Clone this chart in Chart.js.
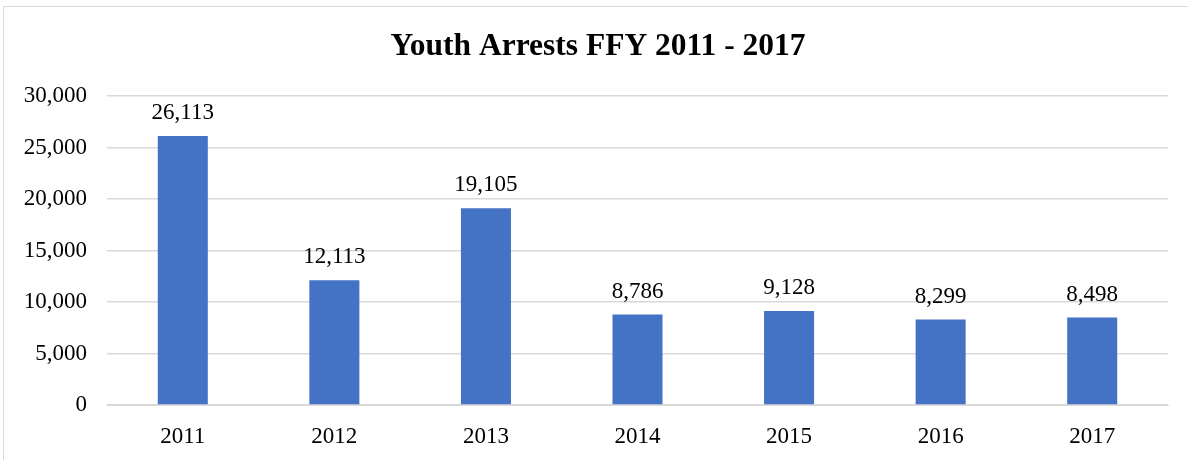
<!DOCTYPE html>
<html>
<head>
<meta charset="utf-8">
<script src="https://cdn.jsdelivr.net/npm/chart.js@4"></script>
<style>
  html, body { margin: 0; padding: 0; background: #fff; overflow: hidden; }
  #wrap { position: relative; width: 1188px; height: 460px; }
  #frame { position: absolute; left: 3px; top: 6px; width: 1200px; height: 470px; border: 1px solid #d9d9d9; }
  canvas { position: absolute; left: 0; top: 0; }
</style>
</head>
<body>
<div id="wrap">
  <div id="frame"></div>
  <canvas id="myChart" width="1188" height="460"></canvas>
</div>
<script>
const years = ['2011', '2012', '2013', '2014', '2015', '2016', '2017'];
const arrests = [26113, 12113, 19105, 8786, 9128, 8299, 8498];
const yTicks = [0, 5000, 10000, 15000, 20000, 25000, 30000];
const chartTitle = 'Youth Arrests FFY 2011 - 2017';

const serif = '"Liberation Serif", "Times New Roman", serif';

// value above each bar, plus the title centred over the frame
const barLabels = {
    id: 'barLabels',
    afterDatasetsDraw(chart) {
        const ctx = chart.ctx;
        const meta = chart.getDatasetMeta(0);
        ctx.save();
        ctx.font = '23px ' + serif;
        ctx.fillStyle = '#000';
        ctx.textAlign = 'center';
        ctx.textBaseline = 'middle';
        meta.data.forEach((bar, i) => {
            ctx.fillText(arrests[i].toLocaleString('en-US'), bar.x, bar.y - 23);
        });
        ctx.font = 'bold 31.5px ' + serif;
        ctx.fillText(chartTitle, 598, 47);
        ctx.restore();
    }
};

const ctx = document.getElementById('myChart');
new Chart(ctx, {
    type: 'bar',
    data: {
        labels: years,
        datasets: [{
            data: arrests,
            backgroundColor: '#4472C4',
            barPercentage: 1,
            categoryPercentage: 0.33
        }]
    },
    options: {
        responsive: false,
        animation: false,
        layout: { padding: { left: 0, right: 20, top: 96, bottom: 0 } },
        plugins: {
            legend: { display: false },
            tooltip: { enabled: false },
            title: { display: false }
        },
        scales: {
            x: {
                grid: { display: false, drawTicks: false },
                border: { color: '#d9d9d9', width: 1 },
                ticks: { color: '#000', font: { family: serif, size: 23 }, padding: 18 },
                afterFit(scale) { scale.height = 55; }
            },
            y: {
                min: 0,
                max: 30000,
                afterBuildTicks(scale) { scale.ticks = yTicks.map(v => ({ value: v })); },
                grid: { color: '#d9d9d9', lineWidth: 1.5, drawTicks: false },
                border: { display: false },
                ticks: {
                    color: '#000',
                    font: { family: serif, size: 23 },
                    padding: 20,
                    callback: v => v.toLocaleString('en-US')
                },
                afterFit(scale) { scale.width = 107; }
            }
        }
    },
    plugins: [barLabels]
});
</script>
</body>
</html>
